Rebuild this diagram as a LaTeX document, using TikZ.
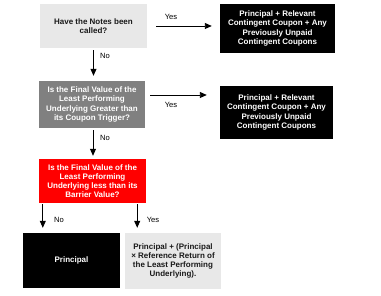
\documentclass[tikz,border=0pt]{standalone}
\usepackage{fontspec}
\setmainfont{Liberation Sans}
\usetikzlibrary{arrows.meta}
\definecolor{boxgray}{HTML}{E8E8E8}
\definecolor{midgray}{HTML}{808080}
\definecolor{alarmred}{HTML}{FF0000}
\begin{document}
\begin{tikzpicture}[
x=1pt,y=-1pt,
box/.style={inner sep=0pt,align=center,font=\fontsize{8}{9.2}\selectfont\bfseries},
askbox/.style={box,fill=boxgray,text=black!90},
paybox/.style={box,fill=black,text=white},
lbl/.style={font=\fontsize{7.6}{9}\selectfont,inner sep=0pt},
arr/.style={-{Triangle[length=7pt,width=6pt]},line width=0.9pt}
]
\useasboundingbox (0,0) rectangle (381,296);
\node[askbox,minimum width=107pt,minimum height=44pt] (called) at (93.5,26) {Have the Notes been\\called?};
\node[paybox,minimum width=115pt,minimum height=49pt] (early) at (277.5,28.5) {Principal + Relevant\\Contingent Coupon + Any\\Previously Unpaid\\Contingent Coupons};
\node[box,fill=midgray,text=white,minimum width=106pt,minimum height=47pt] (trigger) at (92,104.5) {Is the Final Value of the\\Least Performing\\Underlying Greater than\\its Coupon Trigger?};
\node[paybox,minimum width=113pt,minimum height=53pt] (coupon) at (276.5,112.5) {Principal + Relevant\\Contingent Coupon + Any\\Previously Unpaid\\Contingent Coupons};
\node[box,fill=alarmred,text=white,minimum width=107pt,minimum height=44pt] (barrier) at (92.5,181) {Is the Final Value of the\\Least Performing\\Underlying less than its\\Barrier Value?};
\node[paybox,minimum width=97pt,minimum height=55pt] (par) at (71.5,260.5) {Principal};
\node[askbox,minimum width=96pt,minimum height=56pt] (loss) at (173,261) {Principal + (Principal\\× Reference Return of\\the Least Performing\\Underlying).};

% yes branches
\draw[arr,shorten <=9pt,shorten >=8pt] (called.east) -- (called.east -| early.west);
\node[lbl] (yes1) at (171,17) {Yes};
\draw[arr,shorten >=13pt] ([xshift=5pt,yshift=9.5pt]trigger.east) coordinate (y2) -- (y2 -| coupon.west);
\node[lbl] (yes2) at (171,105) {Yes};
\draw[arr,shorten <=1pt,shorten >=5pt] ([xshift=-9pt]barrier.south east) -- ([xshift=-9pt]barrier.south east |- loss.north);
\node[lbl] (yes3) at (153,220) {Yes};

% no branches
\draw[arr,shorten <=2pt,shorten >=5pt] (called.south) -- (called.south |- trigger.north);
\node[lbl] (no1) at (105,56) {No};
\draw[arr,shorten <=2pt,shorten >=3pt] ([xshift=1pt]trigger.south) -- ([xshift=1pt]trigger.south |- barrier.north);
\node[lbl] (no2) at (105,138) {No};
\draw[arr,shorten <=1pt,shorten >=5pt] ([xshift=4pt]barrier.south west) -- ([xshift=4pt]barrier.south west |- par.north);
\node[lbl] (no3) at (59,220) {No};
\end{tikzpicture}
\end{document}
